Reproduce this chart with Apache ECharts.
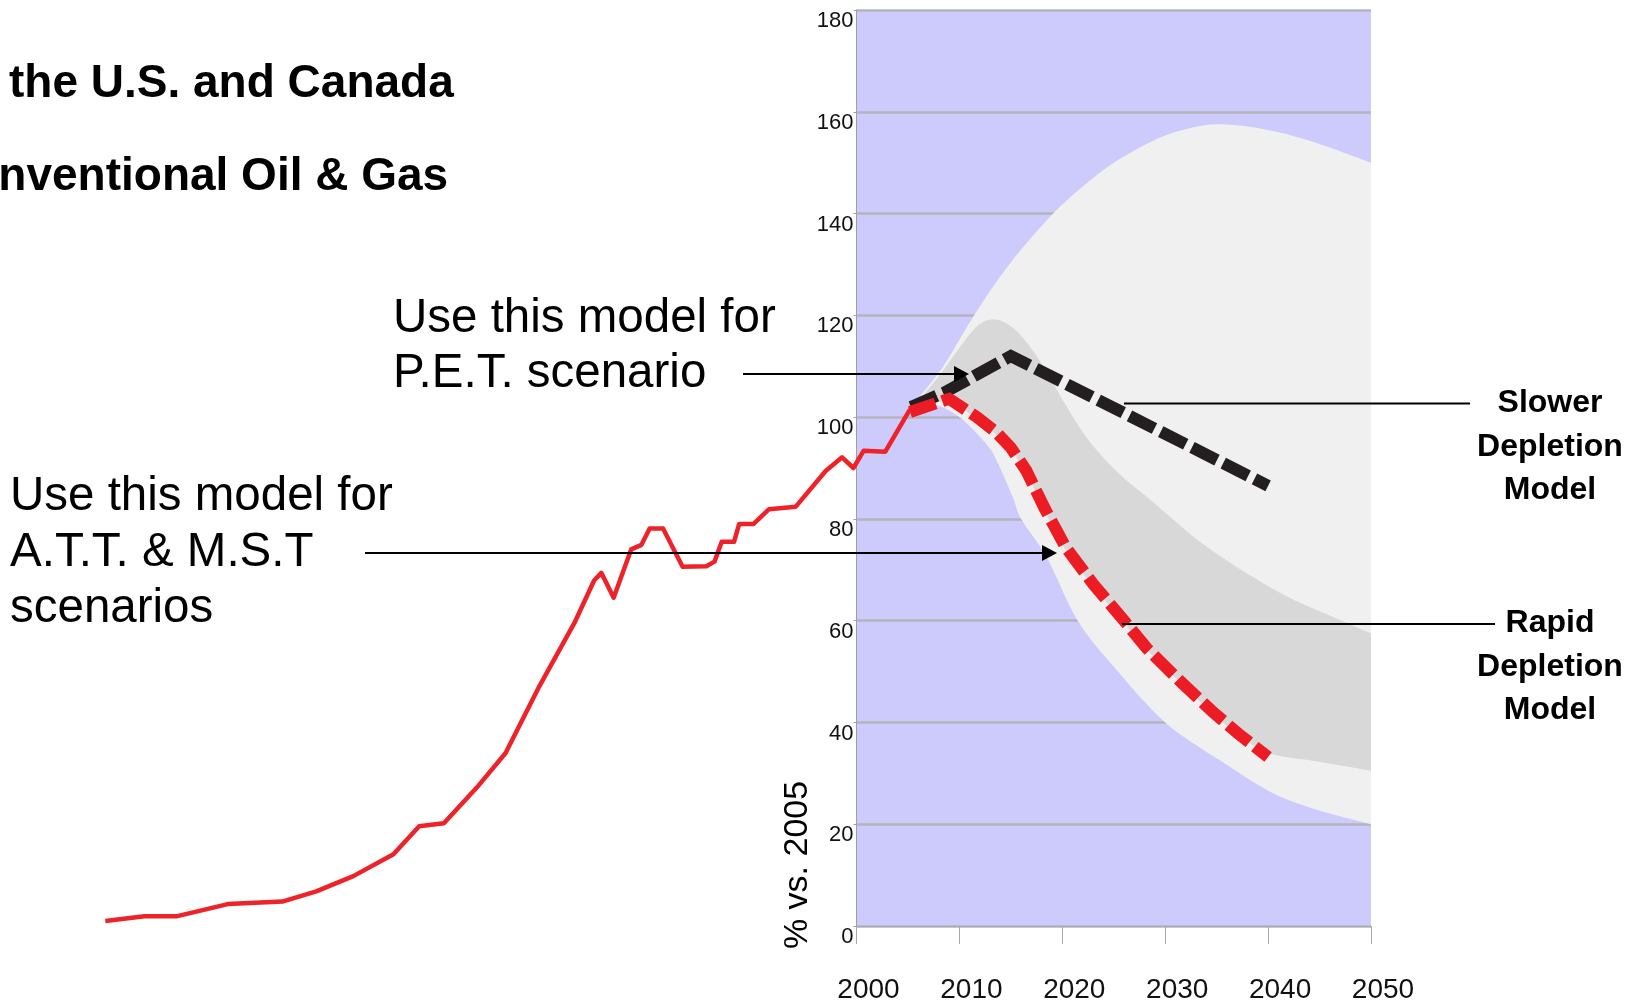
<!DOCTYPE html>
<html>
<head>
<meta charset="utf-8">
<title>Production outlook, % vs. 2005</title>
<script src="https://cdn.jsdelivr.net/npm/echarts@6.0.0/dist/echarts.min.js"></script>
<style>
  html, body { margin: 0; padding: 0; background: #ffffff; }
  #chart { width: 1637px; height: 1004px; }
</style>
</head>
<body>
<div id="chart"></div>
<script>
// Historical production, % of 2005 level  [year, %]
const historyProduction = [
  [1927, 1.0], [1930.8, 1.9], [1933.9, 1.9], [1938.9, 4.3], [1944.2, 4.8],
  [1947.5, 6.8], [1951.1, 9.8], [1955.0, 14.1], [1957.5, 19.6], [1959.9, 20.2],
  [1963.1, 27.2], [1965.9, 34.0], [1969.2, 47.2], [1972.6, 59.6], [1974.5, 67.9],
  [1975.2, 69.4], [1976.4, 64.5], [1978.1, 74.0], [1979.1, 74.9], [1979.9, 78.1],
  [1981.2, 78.1], [1983.1, 70.6], [1985.4, 70.7], [1986.2, 71.6], [1986.9, 75.5],
  [1988.1, 75.5], [1988.6, 79.0], [1990.0, 79.0], [1991.5, 81.9], [1994.1, 82.4],
  [1997.0, 89.4], [1998.6, 92.1], [1999.7, 90.0], [2000.7, 93.4], [2002.8, 93.2],
  [2005.2, 101.5]
];

// Slower depletion model projection
const slowerDepletion = [
  [2005.3, 102.0], [2008.5, 104.8], [2015.0, 112.0], [2040.0, 86.5]
];

// Rapid depletion model projection
const rapidDepletion = [
  [2005.2, 101.0], [2009.0, 103.6], [2011.7, 100.0], [2013.6, 97.0], [2015.0, 94.0],
  [2016.5, 89.5], [2018.3, 82.0], [2020.3, 74.5], [2023.0, 67.2], [2026.0, 60.0],
  [2028.2, 54.6], [2031.5, 48.0], [2034.5, 42.3], [2037.1, 37.8], [2040.0, 33.2]
];

// Outer (widest) range of outcomes: upper and lower edges
const outerRangeUpper = [
  [2005.3, 102.0], [2008.4, 109.9], [2011.4, 119.9], [2014.8, 129.9],
  [2019.2, 140.2], [2023.0, 147.0], [2025.9, 151.1], [2029.7, 155.1], [2033.4, 157.2],
  [2036.0, 157.5], [2039.0, 156.8], [2042.7, 155.1], [2046.4, 152.7], [2050.0, 150.0]
];
const outerRangeLower = [
  [2005.3, 102.0], [2007.5, 102.5], [2010.0, 100.0], [2012.7, 94.5], [2013.8, 90.7],
  [2015.2, 84.2], [2016.0, 80.0], [2018.5, 72.4], [2021.5, 60.0], [2025.2, 50.5],
  [2030.0, 40.0], [2035.2, 32.7], [2040.1, 26.5], [2044.5, 23.0], [2050.0, 20.0]
];

// Inner (likely) range of outcomes: upper and lower edges
const innerRangeUpper = [
  [2005.5, 102.0], [2008.0, 108.0], [2010.3, 114.4], [2011.8, 118.0], [2013.1, 119.2],
  [2014.5, 118.5], [2016.0, 116.0], [2018.0, 110.5], [2020.0, 103.5], [2022.0, 97.0],
  [2024.0, 92.0], [2026.0, 88.0], [2028.4, 84.0], [2031.0, 79.5], [2033.5, 75.3],
  [2037.0, 70.5], [2041.6, 65.0], [2046.0, 61.0], [2050.0, 57.5]
];
const innerRangeLower = [
  [2005.5, 102.0], [2009.0, 103.0], [2011.7, 99.5], [2013.6, 96.5], [2015.0, 93.5],
  [2016.5, 89.0], [2018.3, 81.5], [2020.3, 74.0], [2023.0, 66.8], [2026.0, 59.6],
  [2028.2, 54.3], [2031.5, 47.8], [2034.5, 42.0], [2037.1, 37.6], [2040.0, 34.0],
  [2044.5, 32.4], [2050.0, 30.5]
];

// Axis ticks
const yearTicks = { min: 2000, max: 2050, step: 10 };
const percentTicks = { min: 0, max: 180, step: 20 };
const historyStartYear = 1925;   // left end of the hidden year scale used by the data layer

const SANS = "'Liberation Sans', Arial, Helvetica, sans-serif";
const CHART_W = 1637;

// Visible plot frame (2000-2050) and a wider hidden frame sharing the same year scale
const plotLeft = 856.5, plotRight = 266, plotTop = 10, plotBottom = 78;
const pxPerYear = (CHART_W - plotLeft - plotRight) / (yearTicks.max - yearTicks.min);
const dataLeft = plotLeft - (yearTicks.min - historyStartYear) * pxPerYear;

// Cubic (Catmull-Rom) segments through pixel points, as SVG path commands
function curveSegments(pts) {
  let d = '';
  for (let i = 0; i < pts.length - 1; i++) {
    const p0 = pts[i - 1] || pts[i], p1 = pts[i], p2 = pts[i + 1], p3 = pts[i + 2] || p2;
    const c1 = [p1[0] + (p2[0] - p0[0]) / 6, p1[1] + (p2[1] - p0[1]) / 6];
    const c2 = [p2[0] - (p3[0] - p1[0]) / 6, p2[1] - (p3[1] - p1[1]) / 6];
    d += ' C' + c1[0] + ',' + c1[1] + ' ' + c2[0] + ',' + c2[1] + ' ' + p2[0] + ',' + p2[1];
  }
  return d;
}

// Filled band between two edges, drawn through the cartesian scales
function bandSeries(upper, lower, fill) {
  return {
    type: 'custom',
    coordinateSystem: 'cartesian2d',
    xAxisIndex: 0, yAxisIndex: 0,
    silent: true,
    clip: true,
    data: [upper[0]],
    renderItem: function (params, api) {
      const up = upper.map(p => api.coord(p));
      const lo = lower.slice().reverse().map(p => api.coord(p));
      const d = 'M' + up[0][0] + ',' + up[0][1] + curveSegments(up) +
        ' L' + lo[0][0] + ',' + lo[0][1] + curveSegments(lo) + ' Z';
      return {
        type: 'path',
        shape: { pathData: d },
        style: { fill: fill, stroke: null }
      };
    }
  };
}

function textEl(text, x, y, size, weight, align, extra) {
  return Object.assign({
    type: 'text',
    x: x, y: y,
    silent: true,
    style: {
      text: text,
      fill: '#000000',
      font: (weight || 'normal') + ' ' + size + 'px ' + SANS,
      textAlign: align || 'left',
      textVerticalAlign: 'middle'
    },
    z: 100
  }, extra || {});
}

function hLine(x1, x2, y) {
  return {
    type: 'line', silent: true, z: 100,
    shape: { x1: x1, y1: y, x2: x2, y2: y },
    style: { stroke: '#000000', lineWidth: 2 }
  };
}

function arrowHead(xTip, y) {
  return {
    type: 'polygon', silent: true, z: 100,
    shape: { points: [[xTip, y], [xTip - 15, y - 8], [xTip - 15, y + 8]] },
    style: { fill: '#000000' }
  };
}

const chart = echarts.init(document.getElementById('chart'), null, { renderer: 'canvas' });

chart.setOption({
  animation: false,
  backgroundColor: '#ffffff',
  grid: [
    {   // data layer: same year scale, extended back to the historical series
      left: dataLeft, right: plotRight, top: plotTop, bottom: plotBottom,
      show: false, outerBoundsMode: 'none'
    },
    {   // visible frame with axes and shaded background
      left: plotLeft, right: plotRight, top: plotTop, bottom: plotBottom,
      show: true, backgroundColor: '#cccbfb', borderWidth: 0, outerBoundsMode: 'none'
    }
  ],
  xAxis: [
    {
      gridIndex: 0, type: 'value', show: false,
      min: historyStartYear, max: yearTicks.max
    },
    {
      gridIndex: 1, type: 'value',
      min: yearTicks.min, max: yearTicks.max, interval: yearTicks.step,
      splitLine: { show: false },
      axisLine: { show: true, onZero: false, lineStyle: { color: '#a8a8b6', width: 1 } },
      axisTick: { show: true, length: 18, lineStyle: { color: '#aaaaaa', width: 1 } },
      axisLabel: {
        fontSize: 28, fontFamily: SANS, color: '#111111',
        margin: 50, padding: [0, 0, 0, 24],
        formatter: v => String(v)
      }
    }
  ],
  yAxis: [
    {
      gridIndex: 0, type: 'value', show: false,
      min: percentTicks.min, max: percentTicks.max
    },
    {
      gridIndex: 1, type: 'value',
      min: percentTicks.min, max: percentTicks.max, interval: percentTicks.step,
      axisLine: { show: true, lineStyle: { color: '#9d9db0', width: 1 } },
      axisTick: { show: true, length: 3, lineStyle: { color: '#a0a0a8' } },
      splitLine: { show: true, lineStyle: { color: '#b4b4bc', width: 2.5 } },
      axisLabel: {
        fontSize: 22, fontFamily: SANS, color: '#111111',
        margin: 3, verticalAlign: 'top'
      }
    }
  ],
  series: [
    bandSeries(outerRangeUpper, outerRangeLower, '#f0f0f0'),
    bandSeries(innerRangeUpper, innerRangeLower, '#d8d8d9'),
    {
      name: 'Historical',
      type: 'line',
      xAxisIndex: 0, yAxisIndex: 0,
      data: historyProduction,
      showSymbol: false,
      silent: true,
      lineStyle: { color: '#ee2229', width: 4.5, join: 'round' }
    },
    {
      name: 'Slower Depletion Model',
      type: 'line',
      xAxisIndex: 0, yAxisIndex: 0,
      data: slowerDepletion,
      showSymbol: false,
      silent: true,
      lineStyle: { color: '#231f20', width: 12, type: [28, 7], cap: 'butt', join: 'miter' }
    },
    {
      name: 'Rapid Depletion Model',
      type: 'line',
      xAxisIndex: 0, yAxisIndex: 0,
      data: rapidDepletion,
      showSymbol: false,
      silent: true,
      lineStyle: { color: '#ec1c24', width: 12, type: [27, 7], cap: 'butt', join: 'miter' }
    }
  ],
  graphic: [
    // headings
    textEl('the U.S. and Canada', 9, 84, 46, 'bold'),
    textEl('Conventional Oil & Gas', -63, 177, 46, 'bold'),
    // P.E.T. note and arrow
    textEl('Use this model for', 393, 318.5, 47.5),
    textEl('P.E.T. scenario', 393, 374, 47.5),
    hLine(743, 958, 374),
    arrowHead(969, 374),
    // A.T.T. & M.S.T note and arrow
    textEl('Use this model for', 10, 496.5, 47.5),
    textEl('A.T.T. & M.S.T', 10, 552.5, 47.5),
    textEl('scenarios', 10, 608.5, 47.5),
    hLine(365, 1046, 553),
    arrowHead(1057, 553),
    // model labels
    hLine(1124, 1470, 403.5),
    textEl('Slower', 1550, 403.5, 32, 'bold', 'center'),
    textEl('Depletion', 1550, 447.5, 32, 'bold', 'center'),
    textEl('Model', 1550, 490.5, 32, 'bold', 'center'),
    hLine(1122, 1495, 624),
    textEl('Rapid', 1550, 623.5, 32, 'bold', 'center'),
    textEl('Depletion', 1550, 667, 32, 'bold', 'center'),
    textEl('Model', 1550, 710.5, 32, 'bold', 'center'),
    // y-axis title
    textEl('% vs. 2005', 798, 865, 34, 'normal', 'center', { rotation: Math.PI / 2 })
  ]
});
</script>
</body>
</html>
